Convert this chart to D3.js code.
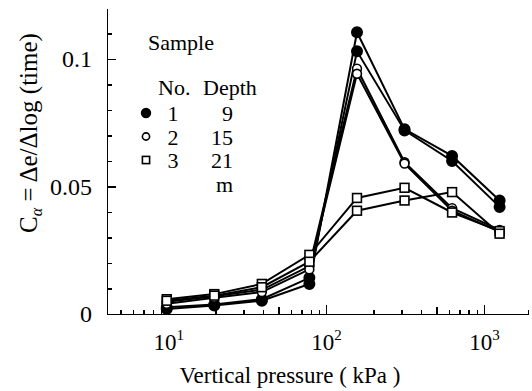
<!DOCTYPE html>
<html>
<head>
<meta charset="utf-8">
<script src="https://d3js.org/d3.v7.min.js"></script>
<style>
  body { margin: 0; background: #fff; }
  .axis path, .axis line { stroke: #000; stroke-width: 1.5; shape-rendering: crispEdges; }
</style>
</head>
<body>
<script>
// ---------------------------------------------------------------
// data
// ---------------------------------------------------------------
var pressure = [9.8, 19.6, 39.2, 78.4, 157, 314, 628, 1256];   // kPa

var sample1a = [0.0020, 0.0033, 0.0052, 0.0118, 0.1105, 0.0725, 0.0620, 0.0445];
var sample1b = [0.0026, 0.0037, 0.0058, 0.0142, 0.1030, 0.0720, 0.0600, 0.0420];
var sample2a = [0.0048, 0.0070, 0.0095, 0.0188, 0.0962, 0.0595, 0.0415, 0.0330];
var sample2b = [0.0040, 0.0064, 0.0086, 0.0175, 0.0942, 0.0590, 0.0405, 0.0322];
var sample3a = [0.0058, 0.0078, 0.0118, 0.0232, 0.0455, 0.0495, 0.0398, 0.0325];
var sample3b = [0.0052, 0.0072, 0.0105, 0.0205, 0.0405, 0.0445, 0.0478, 0.0315];

var seriesList = [
  { values: sample1a, marker: "filled" },
  { values: sample1b, marker: "filled" },
  { values: sample2a, marker: "open" },
  { values: sample2b, marker: "open" },
  { values: sample3a, marker: "square" },
  { values: sample3b, marker: "square" }
];

var legendNo    = ["1", "2", "3"];
var legendDepth = ["9", "15", "21"];
var legendMark  = ["filled", "open", "square"];

var yMajor = [0, 0.05, 0.1];
var yMinor = [0.01, 0.02, 0.03, 0.04, 0.06, 0.07, 0.08, 0.09, 0.11];
var xMajor = [10, 100, 1000];
var xMinor = [5, 6, 7, 8, 9, 20, 30, 40, 50, 60, 70, 80, 90, 200, 300, 400, 500, 600, 700, 800, 900];
var xMid   = [50, 500];

// ---------------------------------------------------------------
var W = 532, H = 391;
var FONT = "'Liberation Serif'";
var svg = d3.select("body").append("svg").attr("width", W).attr("height", H);

var x = d3.scaleLog().domain([4.1, 1900]).range([107, 528]);
var y = d3.scaleLinear().domain([0, 0.12]).range([314, 8]);

function txt(g) {
  return g.append("text").attr("font-family", FONT).attr("fill", "#000");
}

// x axis : ticks point up (inside)
var gx = svg.append("g").attr("class", "axis").attr("transform", "translate(0," + y(0) + ")");
gx.call(d3.axisBottom(x).tickValues(xMajor).tickSizeInner(-9).tickSizeOuter(-4).tickFormat(""));
svg.append("g").attr("class", "axis").attr("transform", "translate(0," + y(0) + ")")
   .call(d3.axisBottom(x).tickValues(xMinor).tickSizeInner(-4).tickSizeOuter(0).tickFormat(""))
   .select(".domain").remove();
svg.append("g").attr("class", "axis").attr("transform", "translate(0," + y(0) + ")")
   .call(d3.axisBottom(x).tickValues(xMid).tickSizeInner(-7).tickSizeOuter(0).tickFormat(""))
   .select(".domain").remove();

gx.selectAll(".tick").select("text").remove();
gx.selectAll(".tick").each(function(d) {
  var t = txt(d3.select(this)).attr("y", 36).attr("text-anchor", "middle").attr("font-size", 23);
  t.append("tspan").text("10");
  t.append("tspan").attr("dy", -10).attr("font-size", 15).text(Math.round(Math.log10(d)));
});

// y axis : ticks point right (inside)
var gy = svg.append("g").attr("class", "axis").attr("transform", "translate(" + x(4.1) + ",0)");
gy.call(d3.axisLeft(y).tickValues(yMajor).tickSizeInner(-9).tickSizeOuter(0).tickPadding(15)
   .tickFormat(function(d) { return d === 0 ? "0" : String(d); }));
gy.selectAll("text").attr("font-family", FONT).attr("font-size", 24);
svg.append("g").attr("class", "axis").attr("transform", "translate(" + x(4.1) + ",0)")
   .call(d3.axisLeft(y).tickValues(yMinor).tickSizeInner(-5).tickSizeOuter(0).tickFormat(""))
   .select(".domain").remove();

// axis titles
txt(svg).attr("x", 290).attr("y", 383).attr("text-anchor", "middle")
   .attr("font-size", 23).text("Vertical pressure ( kPa )");

var yt = txt(svg).attr("transform", "translate(37,133) rotate(-90)")
   .attr("text-anchor", "middle").attr("font-size", 25);
yt.append("tspan").text("C");
yt.append("tspan").attr("dy", 5).attr("font-size", 16).attr("font-style", "italic").text("\u03B1");
yt.append("tspan").attr("dy", -5).text(" = \u0394e/\u0394log (time)");

// ---------------------------------------------------------------
// lines and markers
var line = d3.line().x(function(d, i) { return x(pressure[i]); }).y(function(d) { return y(d); });

svg.selectAll(".series").data(seriesList).enter().append("path")
   .attr("class", "series")
   .attr("d", function(s) { return line(s.values); })
   .attr("fill", "none").attr("stroke", "#000").attr("stroke-width", 2);

function drawMarker(g, kind, cx, cy, size) {
  if (kind === "square") {
    g.append("rect").attr("x", cx - size).attr("y", cy - size)
     .attr("width", size * 2).attr("height", size * 2)
     .attr("fill", "#fff").attr("stroke", "#000").attr("stroke-width", 1.6);
  } else {
    g.append("circle").attr("cx", cx).attr("cy", cy)
     .attr("r", kind === "filled" ? size + 0.8 : size)
     .attr("fill", kind === "filled" ? "#000" : "#fff")
     .attr("stroke", "#000").attr("stroke-width", 1.6);
  }
}

var markG = svg.append("g");
seriesList.forEach(function(s) {
  s.values.forEach(function(v, i) {
    drawMarker(markG, s.marker, x(pressure[i]), y(v), 4.4);
  });
});

// ---------------------------------------------------------------
// legend
var leg = svg.append("g");
function legText(xx, yy, s, anchor) {
  txt(leg).attr("x", xx).attr("y", yy).attr("font-size", 22)
    .attr("text-anchor", anchor || "start").text(s);
}
legText(148, 50, "Sample");
legText(158, 95, "No.");
legText(203, 95, "Depth");
legendNo.forEach(function(n, i) {
  var cy = 113 + i * 23.5;
  drawMarker(leg, legendMark[i], 146, cy, 3.6);
  legText(173, cy + 8, n, "middle");
  legText(233, cy + 8, legendDepth[i], "end");
});
legText(233, 192, "m", "end");
</script>
</body>
</html>
